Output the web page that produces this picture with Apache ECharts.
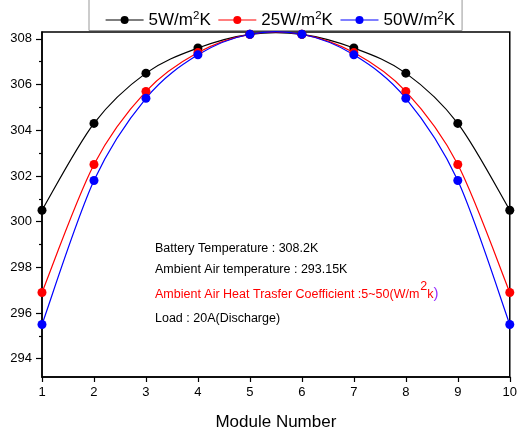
<!DOCTYPE html>
<html><head><meta charset="utf-8">
<script src="https://cdn.jsdelivr.net/npm/echarts@6/dist/echarts.min.js"></script>
<style>html,body{margin:0;padding:0;background:#fff}#c{width:520px;height:436px}</style>
</head><body><div id="c"></div>
<script>
const modules = [1,2,3,4,5,6,7,8,9,10];
const s5  = [300.5,304.3,306.5,307.6,308.2,308.2,307.6,306.5,304.3,300.5];
const s25 = [296.9,302.5,305.7,307.4,308.2,308.2,307.4,305.7,302.5,296.9];
const s50 = [295.5,301.8,305.4,307.3,308.2,308.2,307.3,305.4,301.8,295.5];
const yMajor = [294,296,298,300,302,304,306,308];
const yMinor = [295,297,299,301,303,305,307];
const names = ['5W','25W','50W'];
const colors = ['#000000','#ff0000','#0000ff'];
const FONT = 'Liberation Sans, Arial, sans-serif';

const chart = echarts.init(document.getElementById('c'));
function pts(name, data, color){
  return {
    name: name, type:'line',
    data: data.map((v,i)=>[modules[i], v]),
    symbol:'circle', symbolSize:9,
    lineStyle:{color:color, width:1.2, opacity:0},
    itemStyle:{color:color},
    clip:false, z:4
  };
}
function curve(name, vals, color){
  const n = vals.length;
  return {
    name: name+'_curve', type:'custom', clip:false, z:3,
    data: vals.map((v,i)=>[modules[i], v]),
    encode:{x:0,y:1},
    renderItem: function(params, api){
      const i = params.dataIndex;
      if (i >= n-1) return null;
      const P = k => { const j = Math.max(0, Math.min(n-1, k)); return api.coord([modules[j], vals[j]]); };
      const p0=P(i-1), p1=P(i), p2=P(i+1), p3=P(i+2);
      return {
        type:'bezierCurve',
        shape:{
          x1:p1[0], y1:p1[1], x2:p2[0], y2:p2[1],
          cpx1:p1[0]+(p2[0]-p0[0])/6, cpy1:p1[1]+(p2[1]-p0[1])/6,
          cpx2:p2[0]-(p3[0]-p1[0])/6, cpy2:p2[1]-(p3[1]-p1[1])/6
        },
        style:{stroke:color, fill:null, lineWidth:1.2}
      };
    }
  };
}
chart.setOption({
  animation:false,
  textStyle:{fontFamily:FONT},
  grid:{left:42,right:6,top:32,bottom:57,show:true,borderColor:'#000',borderWidth:1.5,backgroundColor:'transparent'},
  legend:{
    top:-5, left:89, padding:[15,7,2,16],
    borderColor:'#999', borderWidth:1,
    itemWidth:38, itemHeight:10, itemGap:7,
    data: names,
    lineStyle:{opacity:1, width:1.2},
    formatter: n => '{a|'+n+'/m}{s|2}{a|K}',
    textStyle:{fontFamily:FONT, fontSize:17, color:'#000',
      rich:{a:{fontSize:17,fontFamily:FONT,color:'#000'}, s:{fontSize:11.5,fontFamily:FONT,color:'#000',padding:[0,0,8,0]}}}
  },
  xAxis:{
    type:'value', min:1, max:10, interval:1,
    name:'Module Number', nameLocation:'middle', nameGap:37,
    nameTextStyle:{fontSize:17,color:'#000',fontFamily:FONT},
    axisLine:{lineStyle:{color:'#000',width:1.5}},
    axisTick:{inside:false,length:5,lineStyle:{color:'#000',width:1.2}},
    axisLabel:{fontSize:13,color:'#000',margin:9,fontFamily:FONT},
    splitLine:{show:false}
  },
  yAxis:[{
    type:'value', min:293.2, max:308.3,
    axisLine:{show:true,lineStyle:{color:'#000',width:1.5}},
    axisTick:{show:true,inside:false,length:6,customValues:yMajor,lineStyle:{color:'#000',width:1.2}},
    axisLabel:{fontSize:13,color:'#000',margin:10,fontFamily:FONT,customValues:yMajor},
    splitLine:{show:false}
  },{
    type:'value', min:293.2, max:308.3, position:'left',
    axisLine:{show:false},
    axisTick:{show:true,inside:false,length:3,customValues:yMinor,lineStyle:{color:'#000',width:1.2}},
    axisLabel:{show:false},
    splitLine:{show:false}
  }],
  series:[
    pts(names[0],s5,colors[0]), pts(names[1],s25,colors[1]), pts(names[2],s50,colors[2]),
    curve(names[0],s5,colors[0]), curve(names[1],s25,colors[1]), curve(names[2],s50,colors[2])
  ],
  graphic:[
    {type:'text', left:155, top:242, style:{text:'Battery Temperature : 308.2K', font:'12.5px '+FONT, fill:'#000'}},
    {type:'text', left:155, top:263, style:{text:'Ambient Air temperature : 293.15K', font:'12.5px '+FONT, fill:'#000'}},
    {type:'text', left:155, top:280, style:{
      text:'{r|Ambient Air Heat Trasfer Coefficient :5~50(W/m}{s|2}{r|k}{p|)}',
      font:'12.5px '+FONT,
      rich:{
        r:{fontSize:12.5,fontFamily:FONT,fill:'#ff0000',verticalAlign:'bottom'},
        s:{fontSize:12.5,fontFamily:FONT,fill:'#ff0000',padding:[0,0,8,1],verticalAlign:'bottom'},
        p:{fontSize:15,fontFamily:FONT,fill:'#9933ff',verticalAlign:'bottom'}
      }}},
    {type:'text', left:155, top:312, style:{text:'Load : 20A(Discharge)', font:'12.5px '+FONT, fill:'#000'}}
  ]
});
</script></body></html>
